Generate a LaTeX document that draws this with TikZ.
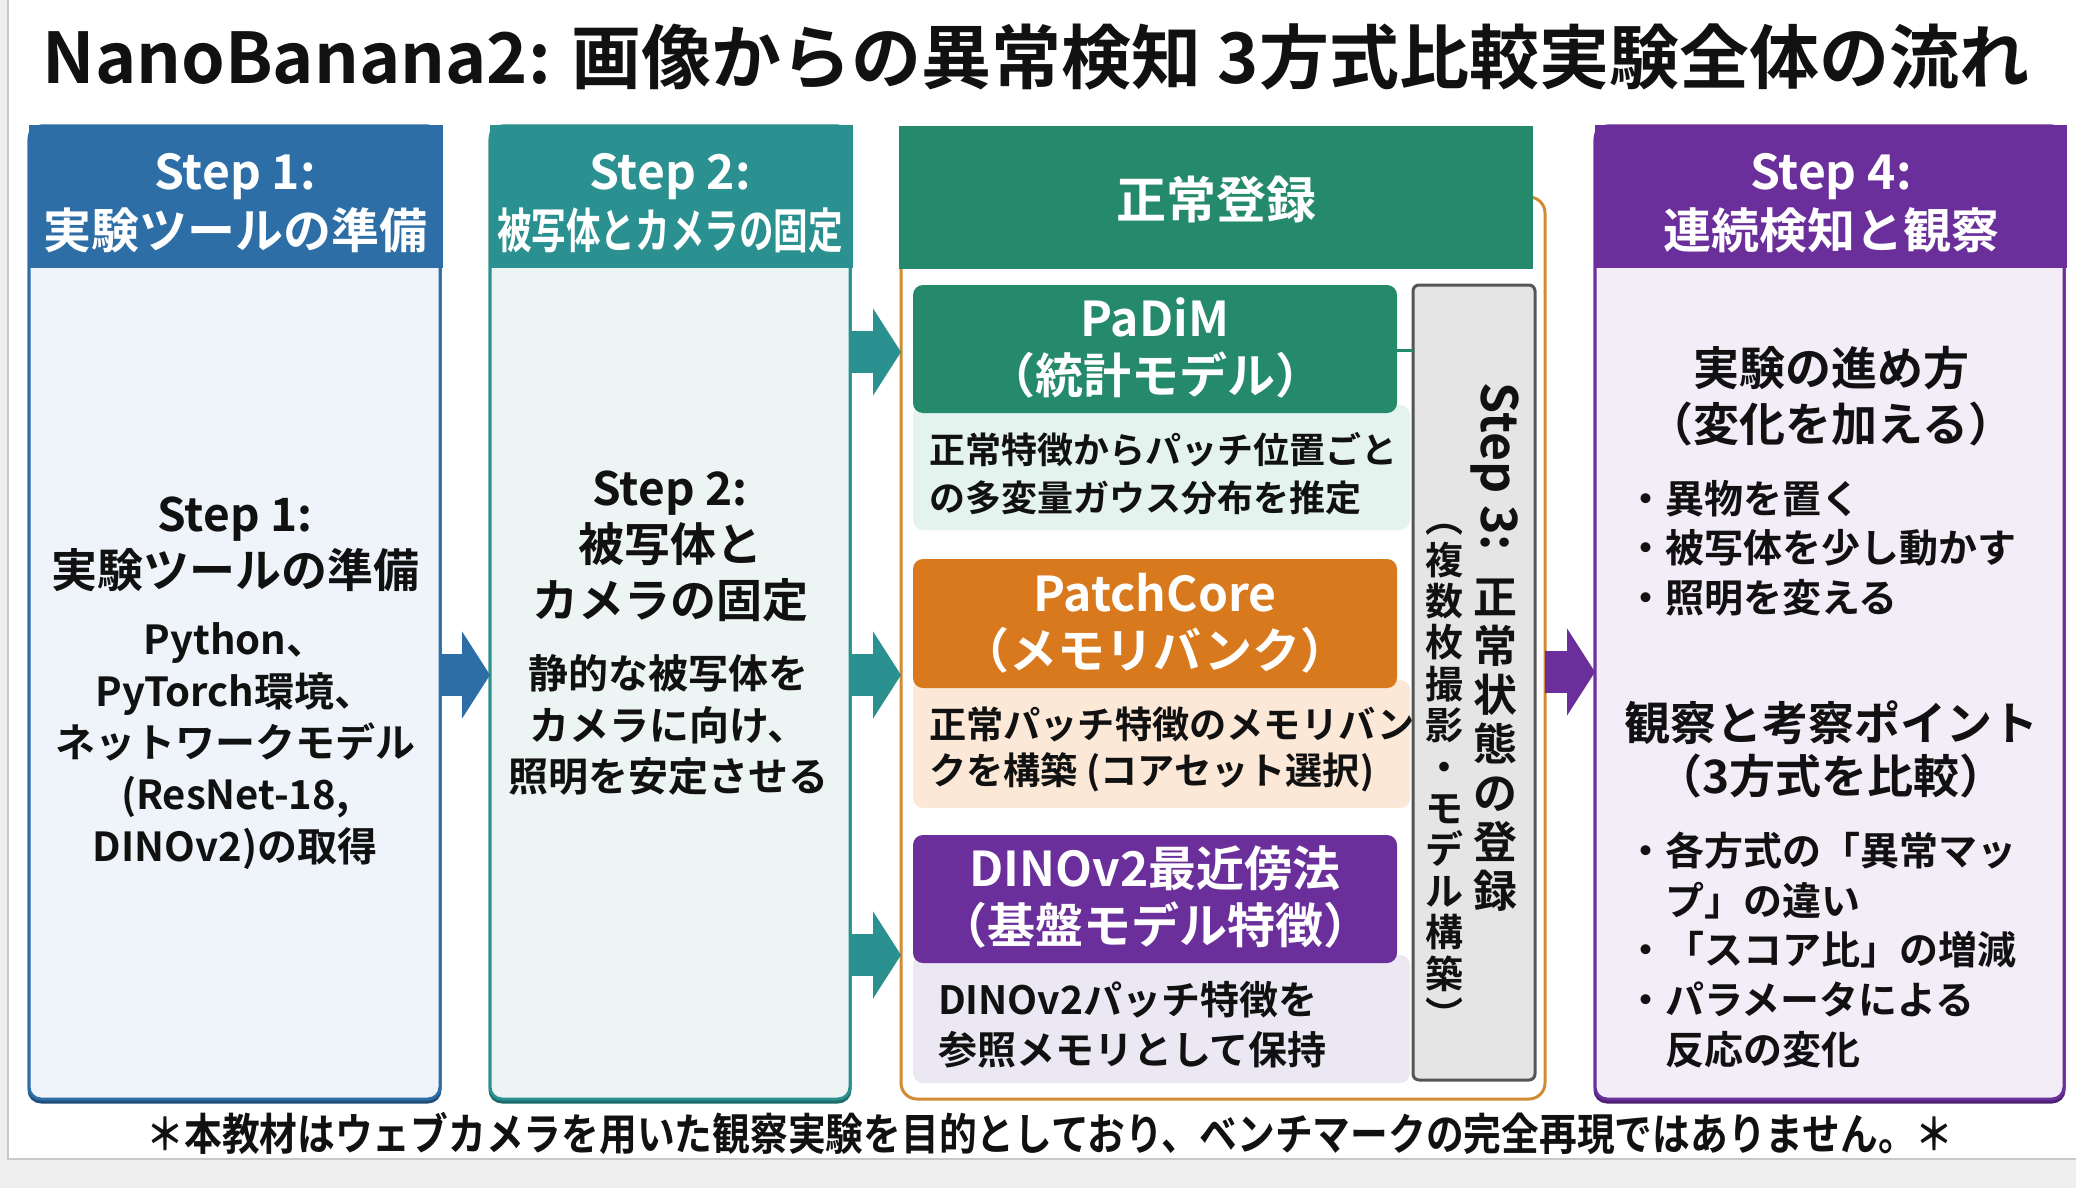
\documentclass[tikz,border=0pt]{standalone}
\usepackage{fontspec}
\setmainfont{Noto Sans CJK JP}[BoldFont=* Bold]
\usepackage{graphicx}
\usetikzlibrary{arrows.meta}
\definecolor{cBlue}{HTML}{2E6EA6}
\definecolor{cBlueD}{HTML}{1F4E7A}
\definecolor{cBlueL}{HTML}{EEF4FA}
\definecolor{cTeal}{HTML}{2A9090}
\definecolor{cTealD}{HTML}{1E6B6B}
\definecolor{cTealL}{HTML}{EDF5F4}
\definecolor{cGreen}{HTML}{25896B}
\definecolor{cGreenL}{HTML}{E4F3EE}
\definecolor{cOrange}{HTML}{D9791E}
\definecolor{cOrangeF}{HTML}{D38A35}
\definecolor{cOrangeL}{HTML}{FBE8D6}
\definecolor{cPurple}{HTML}{6B2F9B}
\definecolor{cPurpleD}{HTML}{4E1F73}
\definecolor{cPurpleL}{HTML}{F3EDF8}
\definecolor{cLav}{HTML}{ECE8F3}
\definecolor{cGrayBox}{HTML}{E5E5E5}
\definecolor{cGrayLine}{HTML}{555555}
\definecolor{cPage}{HTML}{EFEFEF}
\definecolor{cEdge}{HTML}{C8C8C8}
\definecolor{cInk}{HTML}{111111}
\begin{document}
\begin{tikzpicture}[x=0.5pt,y=-0.5pt,
  every node/.style={inner sep=0pt, outer sep=0pt},
  box/.style={anchor=north west, line width=1.5pt, rounded corners=6pt},
  hdr/.style={anchor=north west, draw=none},
  card/.style={anchor=north west, draw=none, rounded corners=5pt},
  htext/.style={text=white, align=center, font=\fontsize{24pt}{29.5pt}\selectfont\bfseries},
  ctext/.style={text=white, align=center, font=\fontsize{24pt}{28.5pt}\selectfont\bfseries},
  bhead/.style={text=cInk, align=center, font=\fontsize{23pt}{28pt}\selectfont\bfseries},
  btext/.style={text=cInk, align=center, font=\fontsize{20pt}{25.8pt}\selectfont\bfseries},
  dtext/.style={text=cInk, align=left, anchor=west},
  bullets/.style={text=cInk, align=left, anchor=west, font=\fontsize{19.5pt}{24.8pt}\selectfont\bfseries},
  barrow/.style={line width=21pt, -{Triangle[length=14pt,width=43pt]}}
]
\useasboundingbox (0,0) rectangle (2076,1188);
% page
\fill[cPage] (0,0) rectangle (2076,1188);
\fill[white] (8,0) rectangle (2076,1159);
\draw[cEdge, line width=0.8pt] (8,0) -- (8,1159) -- (2076,1159);

% title
\node[text=cInk, font=\fontsize{35pt}{40pt}\selectfont\bfseries] (title) at (1036,57)
  {NanoBanana2: 画像からの異常検知 3方式比較実験全体の流れ};

% ---------- Step 1 ----------
\node[box, fill=cBlueD, draw=cBlueD, minimum width=205.5pt, minimum height=486.5pt] (s1sh) at (29,129) {};
\node[box, fill=cBlueL, draw=cBlue, minimum width=205.5pt, minimum height=486.5pt] (s1) at (29,126) {};
\node[hdr, fill=cBlue, minimum width=207pt, minimum height=71.5pt] (s1h) at (28.5,125) {};
\node[htext] (s1ht) at (235,203) {Step 1:\\実験ツールの準備};
\node[bhead] (s1bh) at (235,544) {Step 1:\\実験ツールの準備};
\node[btext] (s1bt) at (235,746) {Python、\\PyTorch環境、\\ネットワークモデル\\(ResNet-18,\\DINOv2)の取得};

% ---------- Step 2 ----------
\node[box, fill=cTealD, draw=cTealD, minimum width=180pt, minimum height=486.5pt] (s2sh) at (490,129) {};
\node[box, fill=cTealL, draw=cTeal, minimum width=180pt, minimum height=486.5pt] (s2) at (490,126) {};
\node[hdr, fill=cTeal, minimum width=181.5pt, minimum height=71.5pt] (s2h) at (489.5,125) {};
\node[htext] (s2ht) at (670,203) {Step 2:\\\scalebox{0.72}[1]{被写体とカメラの固定}};
\node[bhead] (s2bh) at (670,546) {Step 2:\\被写体と\\カメラの固定};
\node[btext] (s2bt) at (668,725) {静的な被写体を\\カメラに向け、\\照明を安定させる};

% ---------- Group (Step 3) ----------
\node[box, draw=cOrangeF, fill=white, rounded corners=8pt, minimum width=322pt, minimum height=451pt] (grp) at (901,197) {};
\node[hdr, fill=cGreen, minimum width=317pt, minimum height=71.5pt] (g3h) at (899,126) {};
\node[htext, font=\fontsize{25pt}{30pt}\selectfont\bfseries] (g3ht) at (1216,199) {正常登録};

% PaDiM
\node[card, fill=cGreenL, minimum width=248.5pt, minimum height=62.5pt] (padimd) at (913,405) {};
\node[card, fill=cGreen, minimum width=242pt, minimum height=64pt] (padim) at (913,285) {};
\node[ctext] (padimt) at (1155,348) {PaDiM\\（統計モデル）};
\node[dtext, font=\fontsize{18pt}{24pt}\selectfont\bfseries] (padimdt) at (929,474)
  {正常特徴からパッチ位置ごと\\の多変量ガウス分布を推定};

% PatchCore
\node[card, fill=cOrangeL, minimum width=248.5pt, minimum height=64pt] (pcd) at (913,680) {};
\node[card, fill=cOrange, minimum width=242pt, minimum height=64.5pt] (pc) at (913,559) {};
\node[ctext] (pct) at (1155,623) {PatchCore\\（メモリバンク）};
\node[dtext, font=\fontsize{18.6pt}{23pt}\selectfont\bfseries] (pcdt) at (929,749)
  {正常パッチ特徴のメモリバン\\クを構築 (コアセット選択)};

% DINOv2
\node[card, fill=cLav, minimum width=248.5pt, minimum height=64pt] (dnd) at (913,955) {};
\node[card, fill=cPurple, minimum width=242pt, minimum height=64pt] (dn) at (913,835) {};
\node[ctext] (dnt) at (1155,897) {DINOv2最近傍法\\（基盤モデル特徴）};
\node[dtext, font=\fontsize{19.5pt}{25pt}\selectfont\bfseries] (dndt) at (938,1025)
  {DINOv2パッチ特徴を\\参照メモリとして保持};

% Step 3 vertical box
\node[box, fill=cGrayBox, draw=cGrayLine, rounded corners=3pt, minimum width=61pt, minimum height=397.5pt] (s3) at (1413,285) {};
\node[text=cInk, rotate=-90, font=\fontsize{25pt}{27pt}\selectfont\bfseries] (s3t) at (1495,467) {Step 3:};
\node[text=cInk, align=center, font=\fontsize{22pt}{24.5pt}\selectfont\bfseries] (s3r) at (1495,745)
  {正\\常\\状\\態\\の\\登\\録};
\node[text=cInk, align=center, font=\fontsize{19pt}{20.7pt}\selectfont\bfseries] (s3l) at (1444,777)
  {︵\\複\\数\\枚\\撮\\影\\・\\モ\\デ\\ル\\構\\築\\︶};
\coordinate (cy) at (0,350);
\draw[cGreen, line width=1.5pt] (padim.east |- cy) -- (s3.west |- cy);

% ---------- Step 4 ----------
\node[box, fill=cPurpleD, draw=cPurpleD, minimum width=234.5pt, minimum height=486.5pt] (s4sh) at (1595,129) {};
\node[box, fill=cPurpleL, draw=cPurple, minimum width=234.5pt, minimum height=486.5pt] (s4) at (1595,126) {};
\node[hdr, fill=cPurple, minimum width=236pt, minimum height=71.5pt] (s4h) at (1594.5,125) {};
\node[htext] (s4ht) at (1831,203) {Step 4:\\連続検知と観察};
\node[bhead] (s4h1) at (1831,396) {実験の進め方\\（変化を加える）};
\node[bullets] (s4b1) at (1626,548) {・異物を置く\\・被写体を少し動かす\\・照明を変える};
\node[bhead, font=\fontsize{23pt}{26.5pt}\selectfont\bfseries] (s4h2) at (1831,749) {観察と考察ポイント\\（3方式を比較）};
\node[bullets] (s4b2) at (1626,950) {・各方式の「異常マッ\\\phantom{・}プ」の違い\\・「スコア比」の増減\\・パラメータによる\\\phantom{・}反応の変化};

% ---------- arrows ----------
\coordinate (a0) at (0,675);
\coordinate (a1) at (0,352);
\coordinate (a2) at (0,675);
\coordinate (a3) at (0,955);
\coordinate (a4) at (0,672);
\draw[barrow, cBlue] (s1.east |- a0) -- (s2.west |- a0);
\draw[barrow, cTeal] (s2.east |- a1) -- (grp.west |- a1);
\draw[barrow, cTeal] (s2.east |- a2) -- (grp.west |- a2);
\draw[barrow, cTeal] (s2.east |- a3) -- (grp.west |- a3);
\draw[barrow, cPurple] (grp.east |- a4) -- (s4.west |- a4);

% footer
\node[text=cInk, font=\fontsize{22pt}{26pt}\selectfont\bfseries] (foot) at (1050,1134)
  {\resizebox{903.5pt}{\height}{＊本教材はウェブカメラを用いた観察実験を目的としており、ベンチマークの完全再現ではありません。＊}};
\end{tikzpicture}
\end{document}
